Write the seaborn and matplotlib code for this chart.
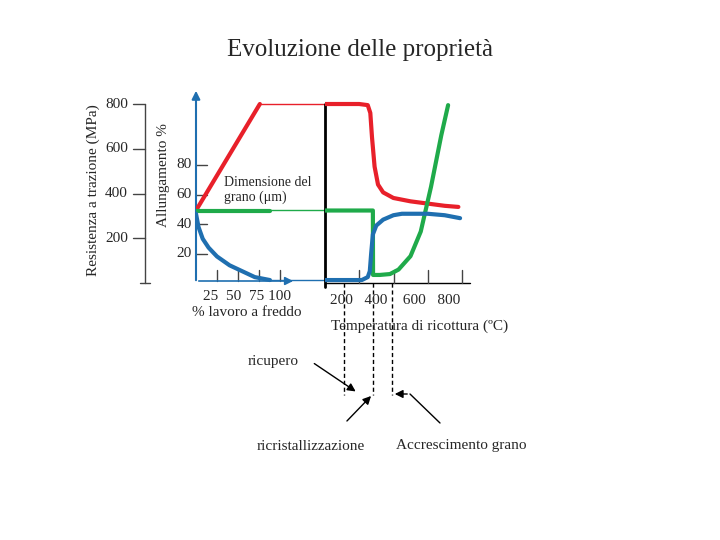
import matplotlib
matplotlib.use("Agg")
import matplotlib.pyplot as plt
import seaborn as sns
import numpy as np

sns.set_theme(style="white")
plt.rcParams['font.family'] = ['Liberation Serif', 'DejaVu Serif']

# ---- data ----
cw_strength_x = [0, 76, 100]
cw_strength_y = [324, 800, 800]
cw_elong_x = [0, 3, 8, 15, 25, 40, 55, 70, 88]
cw_elong_y = [47, 38, 30, 24, 18, 12, 8, 4, 2]
cw_grain_x = [0, 88]
cw_grain_y = [324, 324]

T_strength_x = [0, 100, 200, 250, 265, 275, 290, 310, 340, 400, 500, 600, 700, 780]
T_strength_y = [800, 800, 800, 795, 760, 650, 520, 440, 405, 380, 365, 355, 345, 340]
T_elong_x = [0, 100, 215, 250, 262, 270, 280, 300, 340, 400, 450, 600, 700, 790]
T_elong_y = [2, 2, 2, 4, 8, 20, 33, 39, 43, 46, 47, 47, 46, 44]
T_grain_x = [0, 280, 281, 320, 380, 430, 500, 560, 620, 680, 720]
T_grain_y = [324, 324, 36, 36, 40, 60, 120, 230, 430, 660, 795]

strength_ticks = [200, 400, 600, 800]
elong_ticks = [20, 40, 60, 80]
cw_ticks = [25, 50, 75, 100]
T_ticks = [200, 400, 600, 800]

RED, BLUE, GREEN = "#e8202a", "#1f6fb0", "#1faa4a"
GREY = "#444444"

fig = plt.figure(figsize=(7.2, 5.4), dpi=100)
cv = fig.add_axes([0, 0, 1, 1])
cv.set_xlim(0, 720); cv.set_ylim(540, 0); cv.axis("off")

def pax(x0, x1, y0, y1):
    return fig.add_axes([x0/720, (540-y1)/540, (x1-x0)/720, (y1-y0)/540])

axL = pax(196, 290, 90, 283)
axL.set_xlim(0, 94*25/21); axL.set_ylim(0, 862.6); axL.axis("off"); axL.patch.set_alpha(0)
axLe = axL.twinx(); axLe.set_ylim(0, 131); axLe.axis("off")
sns.lineplot(x=cw_strength_x[:2], y=cw_strength_y[:2], ax=axL, color=RED, lw=3)
sns.lineplot(x=cw_grain_x, y=cw_grain_y, ax=axL, color=GREEN, lw=3)
sns.lineplot(x=cw_elong_x, y=cw_elong_y, ax=axLe, color=BLUE, lw=3)

axR = pax(325, 470, 90, 283)
axR.set_xlim(0, 848); axR.set_ylim(0, 862.6); axR.axis("off"); axR.patch.set_alpha(0)
axRe = axR.twinx(); axRe.set_ylim(0, 131); axRe.axis("off")
sns.lineplot(x=T_strength_x, y=T_strength_y, ax=axR, color=RED, lw=3)
sns.lineplot(x=T_grain_x, y=T_grain_y, ax=axR, color=GREEN, lw=3)
sns.lineplot(x=T_elong_x, y=T_elong_y, ax=axRe, color=BLUE, lw=3)

cv.plot([260, 365], [104, 104], color=RED, lw=1)
cv.plot([270, 325], [210, 210], color=GREEN, lw=1)
cv.plot([270, 325], [280, 280], color=BLUE, lw=1)

# strength axis
cv.plot([145, 145], [283, 104], color=GREY, lw=1)
for v in strength_ticks:
    y = 283 - v*179/800
    cv.plot([133, 145], [y, y], color=GREY, lw=1)
    cv.text(128, y, str(v), ha="right", va="center", fontsize=11)
cv.plot([140, 150], [283, 283], color=GREY, lw=1)
cv.text(93, 190, "Resistenza a trazione (MPa)", rotation=90, ha="center", va="center", fontsize=11)

# elongation axis
cv.annotate("", xy=(196, 88), xytext=(196, 283), arrowprops=dict(arrowstyle="-|>", color=BLUE, lw=1.5))
for v in elong_ticks:
    y = 283 - v*118/80
    cv.plot([196, 207], [y, y], color=GREY, lw=1)
    cv.text(192, y, str(v), ha="right", va="center", fontsize=11)
cv.text(163, 175, "Allungamento %", rotation=90, ha="center", va="center", fontsize=11)
cv.annotate("", xy=(296, 281), xytext=(196, 281), arrowprops=dict(arrowstyle="-|>", color=BLUE, lw=1.2))
for v in cw_ticks:
    x = 196 + v*21/25
    cv.plot([x, x], [270, 281], color=GREY, lw=1)
cv.text(247, 296, "25  50  75 100", ha="center", va="center", fontsize=11)
cv.text(247, 313, "% lavoro a freddo", ha="center", va="center", fontsize=11)

cv.text(224, 190, "Dimensione del\ngrano (μm)", ha="left", va="center", fontsize=10, linespacing=1.1)

# right axes
cv.plot([325, 325], [104, 287], color="black", lw=2)
cv.plot([325, 470], [283, 283], color="black", lw=1)
for v in T_ticks:
    x = 325 + v*0.1715
    cv.plot([x, x], [270, 283], color=GREY, lw=1)
cv.text(395, 300, "200   400    600   800", ha="center", va="center", fontsize=11)
cv.text(420, 326, "Temperatura di ricottura (ºC)", ha="center", va="center", fontsize=11)
for x in [344, 373, 392]:
    cv.plot([x, x], [283, 395], color="black", lw=1, ls=(0, (3, 2)))

cv.text(360, 50, "Evoluzione delle proprietà", ha="center", va="center", fontsize=18)
cv.text(273, 362, "ricupero", ha="center", va="center", fontsize=11)
cv.text(311, 446, "ricristallizzazione", ha="center", va="center", fontsize=11)
cv.text(461, 446, "Accrescimento grano", ha="center", va="center", fontsize=11)

ap = dict(arrowstyle="-|>", color="black", lw=1)
cv.annotate("", xy=(358, 393), xytext=(312, 362), arrowprops=ap)
cv.annotate("", xy=(373, 394), xytext=(345, 423), arrowprops=ap)
cv.annotate("", xy=(392, 394), xytext=(410, 394), arrowprops=ap)
cv.plot([410, 440], [394, 423], color="black", lw=1)

fig.savefig("out.png", dpi=100)
